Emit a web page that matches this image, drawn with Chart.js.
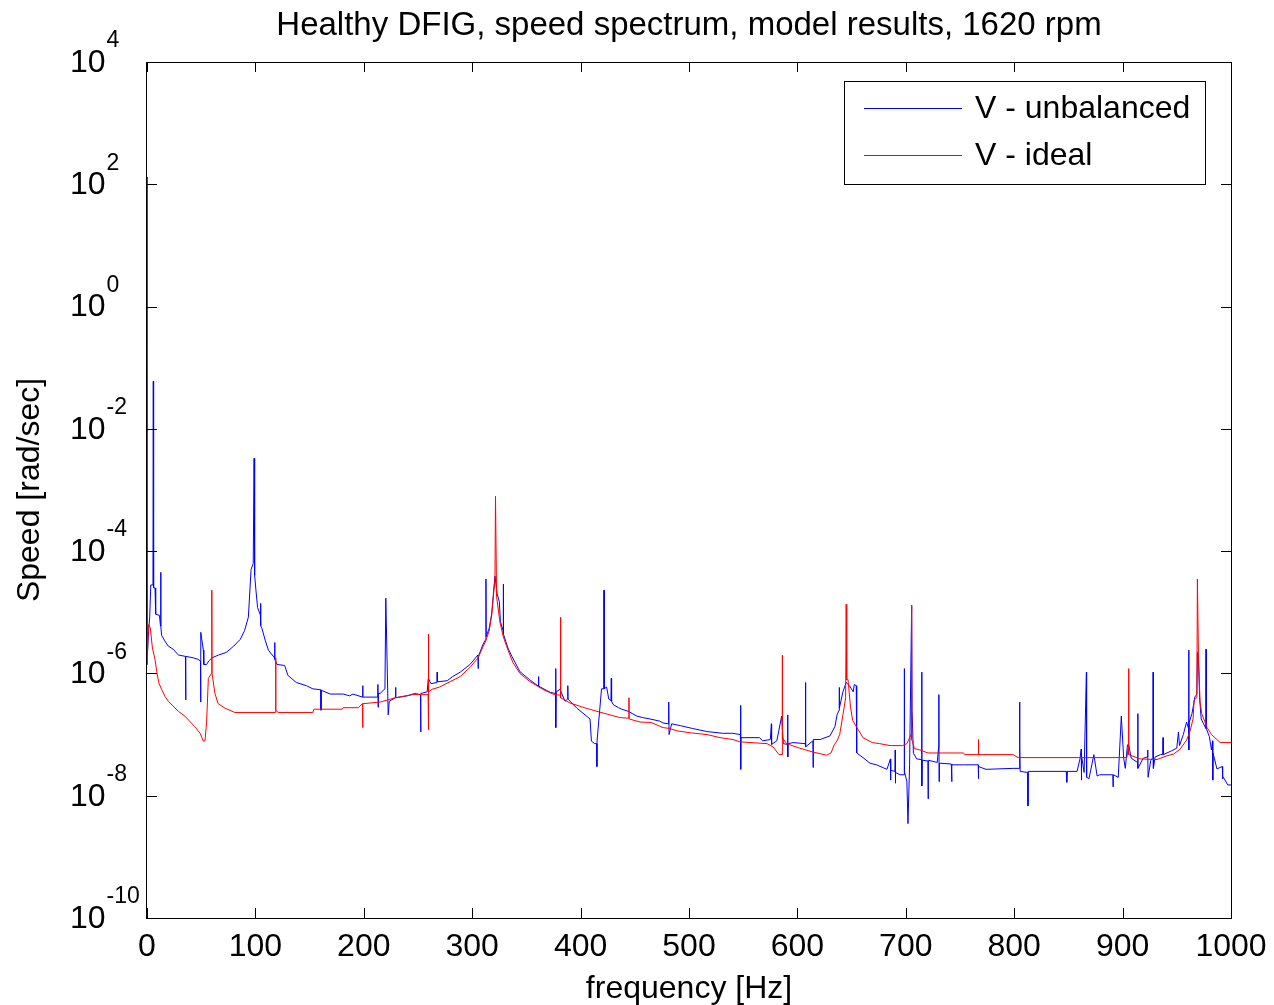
<!DOCTYPE html>
<html>
<head>
<meta charset="utf-8">
<script src="https://cdn.jsdelivr.net/npm/chart.js@4.4.0/dist/chart.umd.min.js"></script>
<style>
  html, body { margin: 0; padding: 0; background: #fff; }
  #wrap { width: 1274px; height: 1005px; }
</style>
</head>
<body>
<div id="wrap"><canvas id="speedChart" width="1274" height="1005"></canvas></div>
<script>
const chartTitle = 'Healthy DFIG, speed spectrum, model results, 1620 rpm';
const seriesNames = ['V - unbalanced', 'V - ideal'];
const xTickValues = [0, 100, 200, 300, 400, 500, 600, 700, 800, 900, 1000];
const yTickValues = [1e-10, 1e-8, 1e-6, 1e-4, 1e-2, 1e0, 1e2, 1e4];

// [frequency Hz, speed rad/sec]
const unbalanced = [
  [0, 1.3e2], [0.3, 2.0e-6], [1.5, 5.0e-6], [2.5, 8.3e-6], [3.5, 2.8e-5], [5.5, 2.8e-5], [5.8, 6.0e-2], [6.1, 2.5e-5],
  [7.4, 2.5e-5], [8, 9.3e-6], [11.5, 8.9e-6], [12.3, 6.3e-6], [12.6, 4.5e-5], [12.9, 5.9e-6], [13.5, 4.2e-6], [16, 3.5e-6],
  [19.6, 2.8e-6], [24, 2.5e-6], [29, 2.0e-6], [35.5, 1.9e-6], [35.7, 3.7e-7], [35.9, 1.9e-6], [42.6, 1.8e-6], [47, 1.7e-6],
  [49.3, 1.6e-6], [49.5, 3.4e-7], [49.7, 4.7e-6], [52, 2.4e-6], [52.4, 1.4e-6], [55, 1.4e-6], [57, 1.6e-6], [60, 1.8e-6],
  [66, 2.0e-6], [73, 2.2e-6], [80, 2.8e-6], [86, 3.6e-6], [90, 5.0e-6], [93.5, 8.3e-6], [96, 5.0e-5], [98, 6.3e-5],
  [98.8, 3.3e-3], [99.3, 4.0e-5], [100.5, 2.3e-5], [102, 1.2e-5], [104.6, 9.0e-6], [104.8, 1.4e-5], [105, 6.0e-6], [106, 5.5e-6],
  [109, 3.5e-6], [112, 2.4e-6], [117.6, 1.8e-6], [117.8, 3.2e-6], [118, 1.7e-6], [120, 1.4e-6], [127, 1.35e-6], [130, 9.3e-7],
  [137.7, 7.1e-7], [147, 6.3e-7], [153, 5.6e-7], [160.3, 5.4e-7], [160.5, 2.5e-7], [160.8, 5.3e-7], [169, 4.6e-7], [181, 4.6e-7],
  [187, 4.3e-7], [190, 4.6e-7], [198.8, 4.1e-7], [199, 6.3e-7], [199.2, 4.1e-7], [212.8, 4.1e-7], [213, 6.6e-7], [213.2, 2.8e-7],
  [213.5, 4.7e-7], [215, 4.7e-7], [219.5, 5.6e-7], [220.3, 1.7e-5], [222.5, 2.1e-7], [223.5, 3.5e-7], [229, 4.0e-7], [229.3, 5.9e-7],
  [229.6, 4.0e-7], [240, 4.3e-7], [247, 4.7e-7], [252.3, 4.5e-7], [252.5, 1.1e-7], [252.7, 4.7e-7], [258.5, 5.0e-7], [259.5, 8.3e-7],
  [262, 6.8e-7], [267.5, 7.1e-7], [267.7, 1.05e-6], [267.9, 7.3e-7], [277, 7.6e-7], [282, 8.9e-7], [289, 1.05e-6], [298, 1.4e-6],
  [305.3, 2.0e-6], [305.5, 1.2e-6], [305.7, 1.9e-6], [310, 3.0e-6], [312.5, 3.6e-6], [312.7, 3.5e-5], [312.9, 4.0e-6], [315.7, 5.5e-6],
  [318, 9.5e-6], [319.5, 1.95e-5], [321, 3.9e-5], [323, 2.0e-5], [325, 1.5e-5], [326, 7.1e-6], [328.5, 5.0e-6], [328.7, 2.9e-5],
  [328.9, 4.4e-6], [333, 2.6e-6], [336.6, 1.9e-6], [344, 1.07e-6], [353, 7.9e-7], [361, 6.2e-7], [361.2, 8.9e-7], [361.4, 6.2e-7],
  [372, 4.9e-7], [376.8, 4.7e-7], [377, 1.2e-6], [377.2, 1.3e-7], [377.5, 5.0e-7], [381, 5.5e-7], [385.6, 3.5e-7], [388, 3.8e-7],
  [388.2, 6.3e-7], [388.4, 3.8e-7], [396.6, 2.7e-7], [408.7, 1.8e-7], [410, 7.8e-8], [413, 7.1e-8], [414.8, 7.1e-8], [415, 3.0e-8],
  [415.2, 7.9e-8], [419.3, 5.6e-7], [421.5, 5.6e-7], [421.6, 2.3e-5], [421.8, 5.6e-7], [424, 6.0e-7], [426, 3.8e-7], [428, 3.6e-7],
  [428.3, 8.3e-7], [428.6, 3.5e-7], [430, 3.1e-7], [435, 2.75e-7], [438, 2.6e-7], [444, 2.4e-7], [452, 2.0e-7], [457, 1.9e-7],
  [464, 1.8e-7], [473, 1.66e-7], [476, 1.55e-7], [481, 1.5e-7], [481.3, 3.4e-7], [481.6, 1.0e-7], [484, 1.5e-7], [492, 1.4e-7],
  [503, 1.26e-7], [516.5, 1.12e-7], [531, 1.05e-7], [540, 1.05e-7], [547.4, 1.0e-7], [547.6, 3.0e-7], [547.8, 2.7e-8], [548, 8.9e-8],
  [565, 8.9e-8], [568, 7.9e-8], [575, 8.3e-8], [576, 1.5e-7], [576.2, 6.9e-8], [581, 7.9e-8], [585.5, 2.0e-7], [587, 7.1e-8],
  [590.8, 6.9e-8], [591, 2.1e-7], [591.2, 4.3e-8], [591.5, 7.1e-8], [596, 7.4e-8], [607.3, 7.1e-8], [607.5, 7.1e-7], [607.7, 6.3e-8],
  [614.3, 7.9e-8], [614.5, 2.9e-8], [614.7, 8.3e-8], [621, 8.3e-8], [630, 9.5e-8], [634.6, 1.35e-7], [636.6, 2.1e-7], [638.4, 2.5e-7],
  [638.6, 5.9e-7], [638.8, 2.7e-7], [642, 5.0e-7], [645, 7.1e-7], [648, 6.3e-7], [651.5, 5.0e-7], [652.5, 6.6e-7], [654.3, 6.3e-7],
  [654.7, 5.0e-8], [660.5, 4.2e-8], [667, 3.4e-8], [673, 3.2e-8], [682.6, 2.7e-8], [685.8, 4.0e-8], [686, 1.8e-8], [686.2, 2.6e-8],
  [690, 2.5e-8], [690.2, 5.6e-8], [690.4, 1.6e-8], [690.6, 2.4e-8], [694.6, 2.2e-8], [698.4, 2.2e-8], [698.6, 1.2e-6], [698.8, 2.5e-8],
  [701, 1.7e-8], [702, 3.5e-9], [703.5, 3.2e-8], [705.4, 1.3e-5], [705.8, 2.5e-7], [707, 5.0e-8], [710, 4.0e-8], [714.5, 3.9e-8],
  [714.7, 1.05e-6], [714.9, 1.45e-8], [715.2, 3.8e-8], [720.4, 3.7e-8], [720.6, 8.9e-9], [720.8, 3.8e-8], [729, 3.5e-8], [730.3, 6.3e-8],
  [730.5, 4.5e-7], [730.7, 1.7e-8], [731, 3.4e-8], [742, 3.3e-8], [742.3, 1.7e-8], [742.6, 3.2e-8], [753, 3.2e-8], [766.8, 3.2e-8],
  [767, 1.9e-8], [767.2, 3.0e-8], [774, 2.7e-8], [799, 2.8e-8], [804.8, 2.8e-8], [805, 3.4e-7], [805.2, 6.3e-8], [805.5, 2.5e-8],
  [812.5, 2.4e-8], [812.7, 6.8e-9], [812.9, 2.5e-8], [848, 2.5e-8], [848.5, 1.66e-8], [849, 2.5e-8], [858, 2.5e-8], [860.7, 4.0e-8],
  [861.8, 5.8e-8], [862, 1.8e-8], [862.2, 4.5e-8], [864.5, 2.4e-8], [866.6, 1.05e-6], [866.8, 2.0e-8], [869, 1.9e-8], [873.5, 4.7e-8],
  [876.5, 2.1e-8], [879, 2.2e-8], [891, 2.2e-8], [891.2, 1.4e-8], [891.4, 2.2e-8], [896, 2.0e-8], [898.8, 2.0e-7], [901, 4.1e-8],
  [902.5, 2.8e-8], [904.5, 6.8e-8], [905.6, 6.8e-8], [908, 4.1e-8], [913.8, 3.5e-8], [914, 2.2e-7], [914.2, 2.8e-8], [919, 4.1e-8],
  [923, 4.3e-8], [923.2, 5.6e-8], [923.5, 2.0e-8], [926, 3.8e-8], [928, 4.2e-8], [928.2, 1.05e-6], [928.4, 2.8e-8], [930, 4.3e-8],
  [935, 4.7e-8], [937, 4.7e-8], [937.3, 8.9e-8], [937.6, 4.7e-8], [945, 5.4e-8], [950, 6.0e-8], [951.5, 1.1e-7], [952.5, 6.6e-8],
  [956, 1.0e-7], [959, 1.6e-7], [960.8, 1.26e-7], [961, 2.4e-6], [961.2, 5.6e-8], [961.5, 1.6e-7], [964, 2.2e-7], [966.8, 4.2e-7],
  [968.5, 4.5e-7], [969, 2.2e-6], [970, 1.8e-6], [971, 4.0e-7], [972.5, 1.8e-7], [976.8, 1.26e-7], [977, 2.5e-6], [977.2, 1.26e-7],
  [980, 9.3e-8], [982, 5.6e-8], [983, 7.9e-8], [983.2, 1.8e-8], [983.4, 5.0e-8], [987, 2.75e-8], [992, 3.0e-8], [992.3, 1.9e-8],
  [993, 2.0e-8], [997, 1.5e-8], [1000, 1.5e-8]
];

const ideal = [
  [0, 1.3e2], [0.2, 1.4e-6], [1.2, 6.3e-6], [3, 5.6e-6], [5, 2.6e-6], [7.4, 1.7e-6], [9, 1.07e-6], [11, 6.9e-7],
  [13.5, 5.5e-7], [16.6, 4.2e-7], [19.7, 3.5e-7], [28.9, 2.4e-7], [35, 2.0e-7], [44, 1.35e-7], [49, 1.05e-7], [52, 7.8e-8],
  [53.5, 7.9e-8], [55, 1.6e-7], [56.6, 8.3e-7], [59.5, 1.0e-6], [59.8, 2.3e-5], [60, 1.0e-6], [62.7, 4.7e-7], [65.6, 3.2e-7],
  [72, 2.7e-7], [81, 2.3e-7], [118.5, 2.3e-7], [118.7, 1.8e-6], [118.9, 2.5e-7], [121, 2.3e-7], [153, 2.3e-7], [154, 2.6e-7],
  [180, 2.6e-7], [181, 2.75e-7], [195, 2.75e-7], [198.8, 3.2e-7], [199, 1.3e-7], [199.2, 3.2e-7], [215, 3.4e-7], [229, 4.0e-7],
  [245, 4.5e-7], [259.3, 4.5e-7], [259.5, 4.4e-6], [259.7, 1.2e-7], [260, 5.0e-7], [263, 5.5e-7], [270, 6.0e-7], [289, 8.9e-7],
  [298, 1.26e-6], [305.5, 1.8e-6], [310, 2.75e-6], [312.5, 3.4e-6], [315.7, 5.0e-6], [318, 8.9e-6], [319.5, 1.8e-5], [321, 3.5e-5],
  [321.5, 7.9e-4], [322.5, 1.8e-5], [325.6, 6.9e-6], [328.5, 4.1e-6], [331.8, 2.75e-6], [337.6, 1.5e-6], [344, 1.0e-6], [353, 7.4e-7],
  [365, 5.5e-7], [374.5, 4.6e-7], [381.3, 4.4e-7], [381.5, 8.3e-6], [381.7, 4.0e-7], [384, 3.8e-7], [390, 3.3e-7], [402, 2.8e-7],
  [415, 2.4e-7], [427, 2.1e-7], [436, 1.9e-7], [444.4, 1.85e-7], [444.6, 4.0e-7], [444.8, 1.8e-7], [455, 1.6e-7], [465, 1.58e-7],
  [476, 1.3e-7], [482, 1.26e-7], [489, 1.15e-7], [501, 1.07e-7], [516.6, 1.0e-7], [528.6, 8.9e-8], [540.6, 8.3e-8], [547, 7.6e-8],
  [572, 7.1e-8], [577.5, 6.3e-8], [583, 4.7e-8], [585.8, 4.7e-8], [586, 2.0e-6], [586.3, 8.9e-8], [590, 7.1e-8], [602, 6.0e-8],
  [614, 5.2e-8], [627, 4.6e-8], [631, 5.0e-8], [634, 6.8e-8], [636.6, 7.9e-8], [639, 1.0e-7], [642, 2.1e-7], [644.5, 4.0e-7],
  [645, 1.35e-5], [645.5, 7.9e-7], [646.7, 7.9e-7], [649, 2.8e-7], [651, 1.7e-7], [660.5, 8.9e-8], [669, 7.4e-8], [676, 7.1e-8],
  [685.5, 6.6e-8], [697, 6.6e-8], [701, 7.1e-8], [704.8, 1.0e-7], [705.2, 1.3e-5], [705.6, 8.3e-8], [706, 7.8e-8], [708, 5.9e-8],
  [713, 5.6e-8], [720.5, 5.0e-8], [753, 5.0e-8], [754.6, 4.7e-8], [766.8, 4.7e-8], [767, 8.3e-8], [767.2, 4.7e-8], [799, 4.7e-8],
  [803.6, 4.2e-8], [904, 4.2e-8], [905, 5.9e-8], [905.5, 1.2e-6], [905.8, 4.7e-8], [916, 4.0e-8], [931.7, 3.9e-8], [941, 4.5e-8],
  [947, 4.8e-8], [953, 5.75e-8], [959, 8.1e-8], [962, 1.1e-7], [965, 1.8e-7], [966, 3.7e-7], [968.5, 4.0e-7], [969, 3.5e-5],
  [970, 1.8e-6], [971.5, 3.4e-7], [973, 2.2e-7], [978, 1.3e-7], [982, 1.0e-7], [987, 8.3e-8], [990, 7.4e-8], [1000, 7.4e-8]
];

const FONT = '"Liberation Sans", Arial, Helvetica, sans-serif';
Chart.defaults.font.family = FONT;
Chart.defaults.color = '#000';

// MATLAB-style box, inner ticks, y labels with exponents and legend
const matlabAxes = {
  id: 'matlabAxes',
  afterDraw(chart) {
    const { ctx, chartArea: a } = chart;
    const xs = chart.scales.x, ys = chart.scales.y;
    ctx.save();
    ctx.strokeStyle = '#000';
    ctx.lineWidth = 1;
    ctx.strokeRect(a.left - 0.5, a.top + 0.5, a.right - a.left + 1, a.bottom - a.top);
    ctx.beginPath();
    xs.ticks.forEach(t => {
      const px = Math.round(xs.getPixelForValue(t.value)) + 0.5;
      ctx.moveTo(px, a.bottom); ctx.lineTo(px, a.bottom - 10);
      ctx.moveTo(px, a.top); ctx.lineTo(px, a.top + 10);
    });
    ys.ticks.forEach(t => {
      const py = Math.round(ys.getPixelForValue(t.value)) + 0.5;
      ctx.moveTo(a.left, py); ctx.lineTo(a.left + 10, py);
      ctx.moveTo(a.right, py); ctx.lineTo(a.right - 10, py);
    });
    ctx.stroke();

    ctx.fillStyle = '#000';
    ctx.textBaseline = 'middle';
    ctx.textAlign = 'left';
    ys.ticks.forEach(t => {
      const py = ys.getPixelForValue(t.value);
      const exp = Math.round(Math.log10(t.value));
      ctx.font = '32px ' + FONT;
      ctx.fillText('10', 70, py + 1);
      const w = ctx.measureText('10').width;
      ctx.font = '23px ' + FONT;
      ctx.fillText(String(exp), 70 + w + 1, py - 21);
    });

    // legend
    const box = { left: 844, top: a.top + 19, right: a.right - 25, bottom: a.top + 123 };
    ctx.fillStyle = '#fff';
    ctx.fillRect(box.left, box.top, box.right - box.left, box.bottom - box.top);
    ctx.strokeStyle = '#000';
    ctx.strokeRect(box.left + 0.5, box.top + 0.5, box.right - box.left - 1, box.bottom - box.top - 1);
    chart.data.datasets.forEach((ds, i) => {
      const yy = box.top + 27 + i * 47;
      ctx.strokeStyle = ds.borderColor;
      ctx.beginPath();
      ctx.moveTo(864, yy + 0.5); ctx.lineTo(962, yy + 0.5);
      ctx.stroke();
      ctx.fillStyle = '#000';
      ctx.font = '32px ' + FONT;
      ctx.fillText(ds.label, 975, yy + 1);
    });
    ctx.restore();
  }
};

new Chart(document.getElementById('speedChart'), {
  type: 'line',
  data: {
    datasets: [{
      label: seriesNames[0],
      data: unbalanced.map(p => ({ x: p[0], y: p[1] })),
      borderColor: '#0000ff',
      borderWidth: 1,
      pointRadius: 0,
      tension: 0,
      order: 1
    }, {
      label: seriesNames[1],
      data: ideal.map(p => ({ x: p[0], y: p[1] })),
      borderColor: '#ff0000',
      borderWidth: 1,
      pointRadius: 0,
      tension: 0,
      order: 0
    }]
  },
  options: {
    responsive: false,
    animation: false,
    layout: { padding: { left: 0, right: 43, top: 0, bottom: 0 } },
    plugins: {
      legend: { display: false },
      tooltip: { enabled: false },
      title: {
        display: true,
        text: chartTitle,
        fullSize: false,
        font: { size: 33, weight: 'normal', lineHeight: 1.2 },
        color: '#000',
        padding: { top: 6, bottom: 16.4 }
      }
    },
    scales: {
      x: {
        type: 'linear',
        min: 0,
        max: 1000,
        afterBuildTicks: s => { s.ticks = xTickValues.map(v => ({ value: v })); },
        ticks: { font: { size: 32 }, color: '#000', padding: 10, maxRotation: 0, autoSkip: false, callback: v => String(v) },
        grid: { display: false, drawTicks: false },
        border: { display: false },
        title: { display: true, text: 'frequency [Hz]', font: { size: 32, lineHeight: 1 }, color: '#000', padding: { top: 0, bottom: 0 } },
        afterFit: s => { s.height = 87; s.paddingLeft = 0; s.paddingRight = 0; }
      },
      y: {
        type: 'logarithmic',
        min: 1e-10,
        max: 1e4,
        afterBuildTicks: s => { s.ticks = yTickValues.map(v => ({ value: v })); },
        ticks: { display: false },
        grid: { display: false, drawTicks: false },
        border: { display: false },
        title: { display: true, text: 'Speed [rad/sec]', font: { size: 32, lineHeight: 1 }, color: '#000', padding: { top: 14, bottom: 0 } },
        afterFit: s => { s.width = 147; }
      }
    }
  },
  plugins: [matlabAxes]
});
</script>
</body>
</html>
